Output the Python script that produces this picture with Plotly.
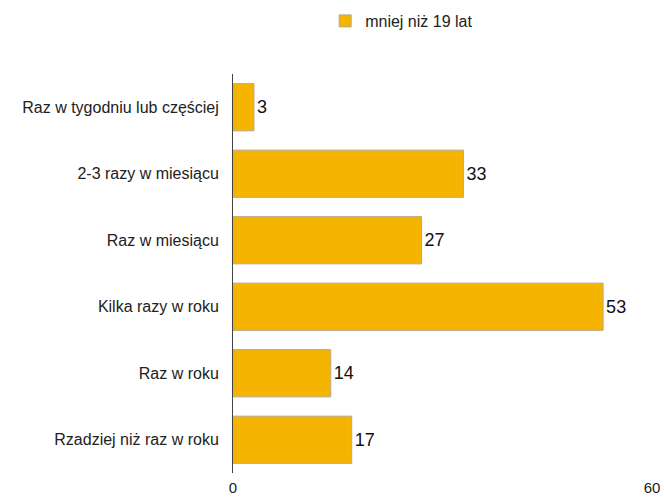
import plotly.graph_objects as go

categories = ["Raz w tygodniu lub częściej", "2-3 razy w miesiącu", "Raz w miesiącu",
              "Kilka razy w roku", "Raz w roku", "Rzadziej niż raz w roku"]
values = [3, 33, 27, 53, 14, 17]
series_name = "mniej niż 19 lat"
tick_vals = [0, 60]

fig = go.Figure()
fig.add_trace(go.Bar(
    y=categories, x=values, orientation="h", name=series_name,
    marker=dict(color="#F5B400", line=dict(color="#B8A88A", width=1)),
    text=[str(v) for v in values], textposition="outside",
    textfont=dict(size=18, color="#111111"), cliponaxis=False,
    showlegend=True,
))
fig.update_layout(
    width=664, height=497,
    margin=dict(l=233, r=12, t=74, b=24),
    paper_bgcolor="white", plot_bgcolor="white",
    font=dict(family="Liberation Sans, Arial, sans-serif", size=16, color="#222222"),
    bargap=0.29,
    showlegend=True,
    legend=dict(orientation="h", x=0.22, xref="paper", y=0.992, yref="container",
                xanchor="left", yanchor="top",
                font=dict(size=16, color="#222222")),
    xaxis=dict(range=[0, 60], tickvals=tick_vals, showgrid=False, zeroline=False,
               showline=False, ticks="outside", ticklen=1, tickcolor="rgba(0,0,0,0)",
               tickfont=dict(size=15, color="#222222"), automargin=False),
    yaxis=dict(autorange="reversed", showgrid=False, zeroline=False, showline=True,
               linecolor="#444444", linewidth=1, ticks="outside", ticklen=10,
               tickcolor="rgba(0,0,0,0)", tickfont=dict(size=16, color="#222222"),
               automargin=False),
)
fig.write_html("out.html", config={"displayModeBar": False},
               post_script="document.body.style.margin='0';")
